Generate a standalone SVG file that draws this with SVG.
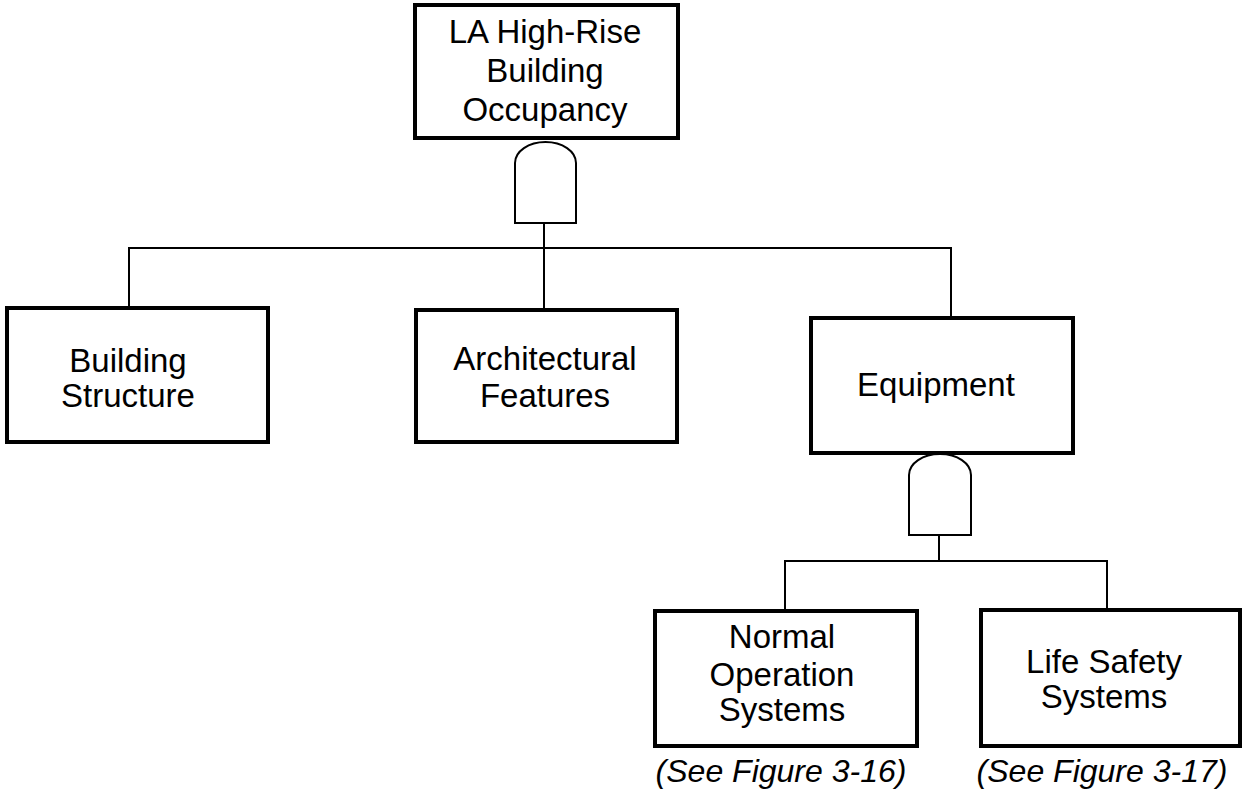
<svg xmlns="http://www.w3.org/2000/svg" width="1245" height="804" viewBox="0 0 1245 804">
<style>
.box{fill:#fff;stroke:#000;stroke-width:4}
.gate{fill:#fff;stroke:#000;stroke-width:2}
.conn{fill:none;stroke:#000;stroke-width:2}
.t{font-family:"Liberation Sans",Arial,sans-serif;font-size:33px;fill:#000;text-anchor:middle}
.ref{font-family:"Liberation Sans",Arial,sans-serif;font-size:32px;font-style:italic;fill:#000;text-anchor:middle}
</style>
<rect width="1245" height="804" fill="#fff"/>
<g id="connectors">
<path class="conn" d="M544,223 V248 M129,308 V248 H951 V318 M544,248 V310"/>
<path class="conn" d="M939,535 V561 M785,611 V561 H1107 V610"/>
</g>
<g id="top">
<rect class="box" x="415" y="5" width="263" height="133"/>
<text class="t" x="545" y="43">LA High-Rise</text>
<text class="t" x="545" y="82">Building</text>
<text class="t" x="545" y="121">Occupancy</text>
</g>
<g id="gate1">
<path class="gate" d="M515,223 V163 A30.5,21 0 0 1 576,163 V223 Z"/>
</g>
<g id="building-structure">
<rect class="box" x="7" y="308" width="261" height="134"/>
<text class="t" x="128" y="372">Building</text>
<text class="t" x="128" y="407">Structure</text>
</g>
<g id="architectural-features">
<rect class="box" x="416" y="310" width="261" height="132"/>
<text class="t" x="545" y="370">Architectural</text>
<text class="t" x="545" y="407">Features</text>
</g>
<g id="equipment">
<rect class="box" x="811" y="318" width="262" height="135"/>
<text class="t" x="936" y="396">Equipment</text>
</g>
<g id="gate2">
<path class="gate" d="M909,535 V475 A31,21 0 0 1 971,475 V535 Z"/>
</g>
<g id="normal-operation">
<rect class="box" x="655" y="611" width="262" height="135"/>
<text class="t" x="782" y="648">Normal</text>
<text class="t" x="782" y="686">Operation</text>
<text class="t" x="782" y="721">Systems</text>
<text class="ref" x="781" y="782">(See Figure 3-16)</text>
</g>
<g id="life-safety">
<rect class="box" x="981" y="610" width="259" height="136"/>
<text class="t" x="1104" y="673">Life Safety</text>
<text class="t" x="1104" y="708">Systems</text>
<text class="ref" x="1102" y="782">(See Figure 3-17)</text>
</g>
</svg>
